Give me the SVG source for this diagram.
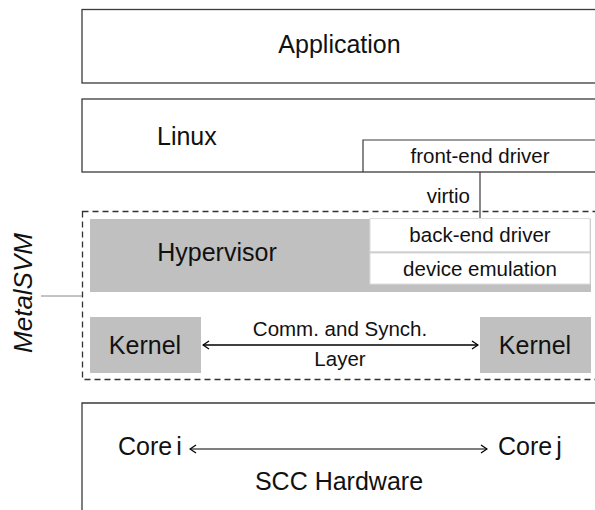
<svg xmlns="http://www.w3.org/2000/svg" width="595" height="510" viewBox="0 0 595 510">
<defs>
<style>
text{font-family:"Liberation Sans",Arial,sans-serif;fill:#111}
.big{font-size:25px}
.small{font-size:20.5px}
.box{fill:#fff;stroke:#3a3a3a;stroke-width:1.3}
.gray{fill:#c0c0c0;stroke:none}
.sub{fill:#fff;stroke:#dcdcdc;stroke-width:1}
.conn{stroke:#000;stroke-width:1.6;fill:none}
</style>
<marker id="ah" viewBox="0 0 10 10" refX="9" refY="5" markerWidth="10" markerHeight="10" markerUnits="userSpaceOnUse" orient="auto-start-reverse">
<path d="M3,1 L9,5 L3,9" fill="none" stroke="#000" stroke-width="1.3"/>
</marker>
</defs>
<g id="application">
<rect class="box" x="82" y="9.5" width="530" height="73.5"/>
<text class="big" x="339.5" y="53" text-anchor="middle">Application</text>
</g>
<g id="linux">
<rect class="box" x="82" y="99" width="530" height="73"/>
<text class="big" x="157" y="145">Linux</text>
</g>
<g id="frontend">
<path d="M363,172 V140 H600" fill="none" stroke="#3a3a3a" stroke-width="1.2"/>
<text class="small" x="480" y="163" text-anchor="middle">front-end driver</text>
</g>
<g id="metalsvm">
<rect x="82.5" y="211.5" width="530" height="168" fill="none" stroke="#333" stroke-width="1.3" stroke-dasharray="6,4"/>
<text class="big" font-size="26" font-style="italic" transform="translate(32,293) rotate(-90)" text-anchor="middle" style="font-size:26px">MetalSVM</text>
</g>
<g id="hypervisor">
<rect class="gray" x="90" y="219" width="501" height="73"/>
<text class="big" x="217" y="261" text-anchor="middle">Hypervisor</text>
</g>
<g id="backend">
<rect class="sub" x="370" y="218.5" width="220" height="33"/>
<text class="small" x="480" y="242" text-anchor="middle">back-end driver</text>
</g>
<g id="device-emulation">
<rect class="sub" x="370" y="253" width="220" height="31"/>
<text class="small" x="480" y="276" text-anchor="middle">device emulation</text>
</g>
<g id="kernel-left">
<rect class="gray" x="90" y="317" width="111" height="56"/>
<text class="big" x="145" y="354" text-anchor="middle">Kernel</text>
</g>
<g id="kernel-right">
<rect class="gray" x="480" y="317" width="111" height="56"/>
<text class="big" x="535" y="354" text-anchor="middle">Kernel</text>
</g>
<g id="scc">
<path d="M82,520 V403 H600" fill="none" stroke="#3a3a3a" stroke-width="1.3"/>
<text class="big" x="118" y="455" word-spacing="-3">Core i</text>
<text class="big" x="498" y="455" word-spacing="-3">Core j</text>
<text class="big" x="339" y="490" text-anchor="middle">SCC Hardware</text>
</g>
<g id="connectors">
<line x1="480" y1="172" x2="480" y2="218" stroke="#3a3a3a" stroke-width="1.2"/>
<text class="small" x="470" y="203" text-anchor="end">virtio</text>
<line x1="41" y1="296" x2="82" y2="296" stroke="#888" stroke-width="1"/>
<line class="conn" x1="203" y1="345" x2="478" y2="345" marker-start="url(#ah)" marker-end="url(#ah)"/>
<text class="small" x="340" y="336" text-anchor="middle">Comm. and Synch.</text>
<text class="small" x="340" y="366" text-anchor="middle">Layer</text>
<line x1="190" y1="449" x2="487" y2="449" stroke="#000" stroke-width="1.1" marker-start="url(#ah)" marker-end="url(#ah)"/>
</g>
</svg>
